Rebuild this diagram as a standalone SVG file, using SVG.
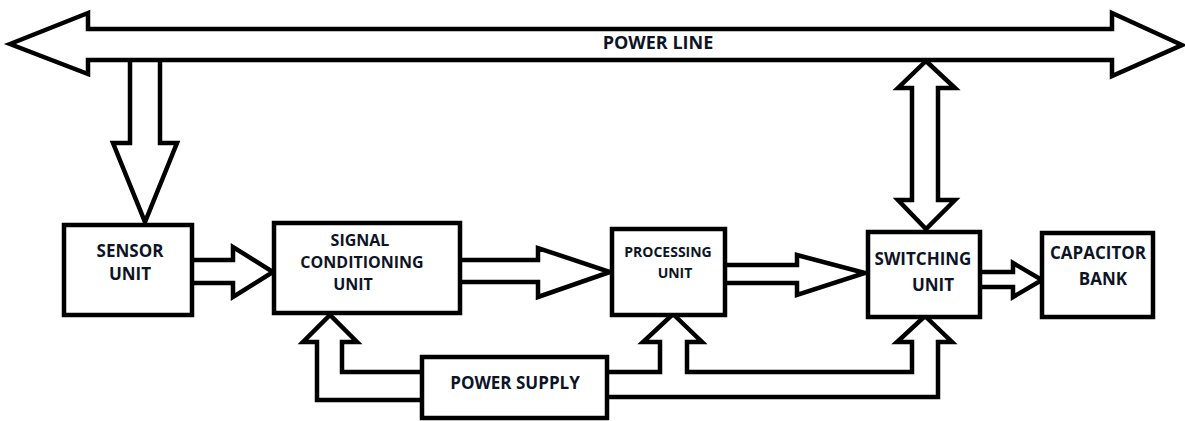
<svg xmlns="http://www.w3.org/2000/svg" width="1185" height="421" viewBox="0 0 1185 421">
<style>
.ln{fill:none;stroke:#000;stroke-width:4.5;stroke-linejoin:miter;stroke-miterlimit:10}
.bx{fill:#fff;stroke:#000;stroke-width:4.5}
.t{font-family:"Open Sans","Liberation Sans",sans-serif;font-weight:bold;font-size:17px;fill:#0d1426;text-anchor:middle}
.s{font-size:14px}
.p{font-size:18px}
.c{font-size:16px}
</style>
<rect width="1185" height="421" fill="#fff"/>
<g id="connectors">
<polygon class="ln" points="10,44 88,13 88,29 1112,29 1112,13 1182,45 1112,76 1112,60 88,60 88,74"/>
<polyline class="ln" points="130,60 130,143 113,143 145,222 177,143 160,143 160,60"/>
<polyline class="ln" points="192,260 233,260 233,247 273,272 233,297 233,283 192,283"/>
<polyline class="ln" points="460,260 538,260 538,248 610,272 538,297 538,282 460,282"/>
<polyline class="ln" points="725,265 797,265 797,255 865,273 797,295 797,283 725,283"/>
<polyline class="ln" points="980,272 1013,272 1013,263 1042,280 1013,297 1013,287 980,287"/>
<polygon class="ln" points="926,61 955,88 938,88 938,200 955,200 926,229 898,200 912,200 912,88 898,88"/>
<polyline class="ln" points="422,400 317,400 317,342 303,342 330,315 357,342 342,342 342,372 422,372"/>
<polyline class="ln" points="607,372 660,372 660,342 643,342 673,314 702,342 687,342 687,372 912,372 912,342 897,342 925,316 952,342 938,342 938,397 607,397"/>
</g>
<g id="power-line"><text class="t p" x="658" y="49">POWER LINE</text></g>
<g id="sensor-unit">
<rect class="bx" x="64" y="225" width="128" height="90"/>
<text class="t" x="130" y="257">SENSOR</text>
<text class="t" x="130" y="280">UNIT</text>
</g>
<g id="signal-conditioning-unit">
<rect class="bx" x="274" y="223" width="186" height="90"/>
<text class="t c" x="360" y="246">SIGNAL</text>
<text class="t c" x="362" y="268">CONDITIONING</text>
<text class="t c" x="353" y="290">UNIT</text>
</g>
<g id="processing-unit">
<rect class="bx" x="612" y="229" width="113" height="86"/>
<text class="t s" x="668" y="257">PROCESSING</text>
<text class="t s" x="675" y="278">UNIT</text>
</g>
<g id="switching-unit">
<rect class="bx" x="868" y="232" width="112" height="85"/>
<text class="t" x="923" y="265">SWITCHING</text>
<text class="t" x="933" y="291">UNIT</text>
</g>
<g id="capacitor-bank">
<rect class="bx" x="1042" y="233" width="111" height="84"/>
<text class="t" x="1098" y="259">CAPACITOR</text>
<text class="t" x="1103" y="285">BANK</text>
</g>
<g id="power-supply">
<rect class="bx" x="422" y="357" width="185" height="61"/>
<text class="t" x="515" y="389">POWER SUPPLY</text>
</g>
</svg>
